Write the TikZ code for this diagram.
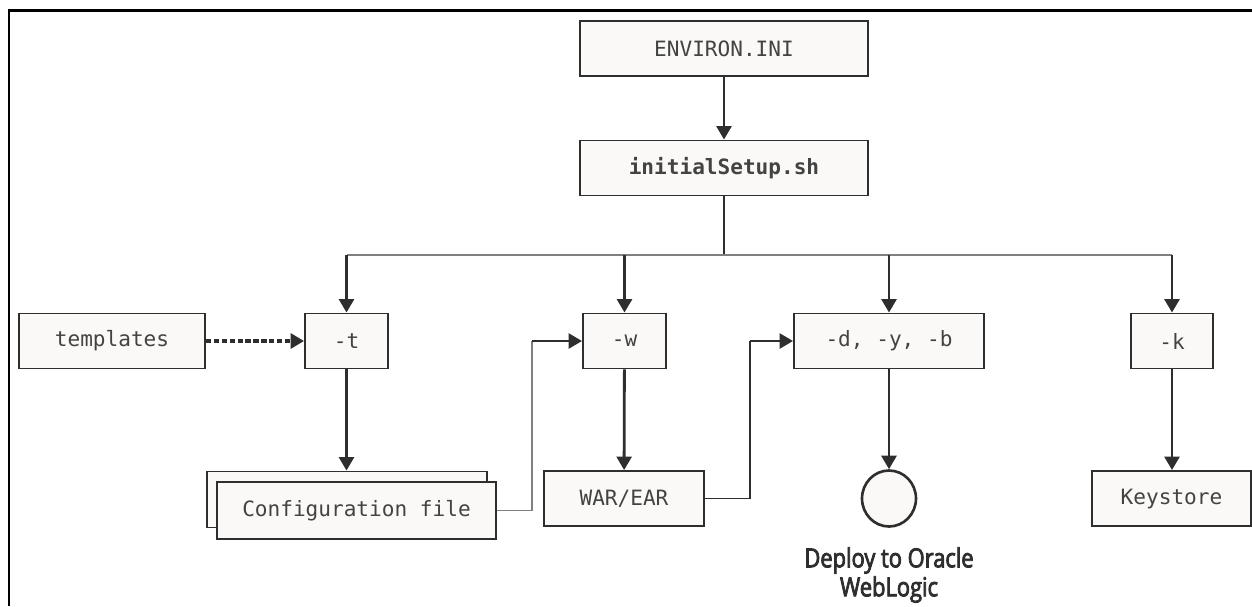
\documentclass[tikz,border=0pt]{standalone}
\usepackage{fontspec}
\setmonofont{DejaVu Sans Mono}
\newfontfamily\labelfont[FakeStretch=0.83,FakeBold=3]{Open Sans}
\usetikzlibrary{arrows.meta,shapes.geometric}
\definecolor{boxfill}{HTML}{FAF9F7}
\definecolor{ink}{HTML}{2E2E2E}
\definecolor{busgray}{HTML}{808080}

\begin{document}
\begin{tikzpicture}[x=0.02cm,y=-0.02cm,
    box/.style={draw=ink,line width=1.1pt,fill=boxfill,text=ink!90,
      font=\ttfamily\fontsize{12}{14}\selectfont,minimum height=1.1cm,inner sep=0pt},
    flow/.style={draw=ink,line width=1.6pt,-{Triangle[length=0.27cm,width=0.3cm]}},
    bus/.style={draw=busgray,line width=0.7pt}]
    \useasboundingbox (0,0) rectangle (1252,606);
    \draw[line width=1.4pt] (9,606) -- (9,10.5) -- (1252,10.5);

    % top of the chain
    \node[box,minimum width=5.76cm] (env) at (724,48.5) {ENVIRON.INI};
    \node[box,minimum width=5.76cm,font=\ttfamily\bfseries\fontsize{12}{14}\selectfont] (setup) at (724,168) {initialSetup.sh};
    \draw[flow] (env) -- (setup);

    % options
    \node[box,minimum width=3.72cm] (tmpl) at (112,341) {templates};
    \node[box,minimum width=1.66cm] (optt) at (346.5,341) {-t};
    \node[box,minimum width=1.66cm] (optw) at (624.5,341) {-w};
    \node[box,minimum width=3.8cm] (optd) at (889,341) {-d, -y, -b};
    \node[box,minimum width=1.64cm] (optk) at (1172,341) {-k};

    \coordinate (busl) at (346.5,255);
    \coordinate (busr) at (1172,255);
    \draw[ink,line width=1.6pt] (setup.south) -- (setup.south |- busl);
    \draw[bus] (busl) -- (busr);
    \foreach \n in {optt,optw,optd,optk}
        \draw[flow] (\n |- busl) -- (\n.north);
    \draw[flow,line width=1.9pt,dash pattern=on 3pt off 1.5pt] (tmpl) -- (optt);

    % outputs
    \node[box,minimum width=5.6cm,minimum height=1.12cm] (cfgb) at (347,499.5) {};
    \node[box,minimum width=5.58cm,minimum height=1.14cm] (cfgf) at (356.5,510.5) {Configuration file};
    \node[box,minimum width=3.2cm] (war) at (624,498.5) {WAR/EAR};
    \node[draw=ink,line width=1.5pt,fill=boxfill,ellipse,minimum width=1.08cm,minimum height=1.12cm,inner sep=0pt] (wls) at (889,498.5) {};
    \node[text=ink,align=center,inner sep=0pt,font=\labelfont\fontsize{15}{16.5}\selectfont] (wlstxt) at (889,575) {Deploy to Oracle\\WebLogic};
    \node[box,minimum width=3.18cm] (keys) at (1171.5,498.5) {Keystore};

    \draw[flow] (optt) -- (optt |- cfgb.north);
    \draw[flow] (optw) -- (war);
    \draw[flow] (optd) -- (wls);
    \draw[flow] (optk) -- (optk |- keys.north);

    % feeding back into the next option
    \coordinate (cw) at (532,341);
    \coordinate (cd) at (750,341);
    \draw[bus,line width=0.9pt] (cfgf.east) -| (cw);
    \draw[flow] (cw) -- (optw);
    \draw[ink,line width=0.9pt] (war.east) -| (cd);
    \draw[flow] (cd) -- (optd);
\end{tikzpicture}
\end{document}
